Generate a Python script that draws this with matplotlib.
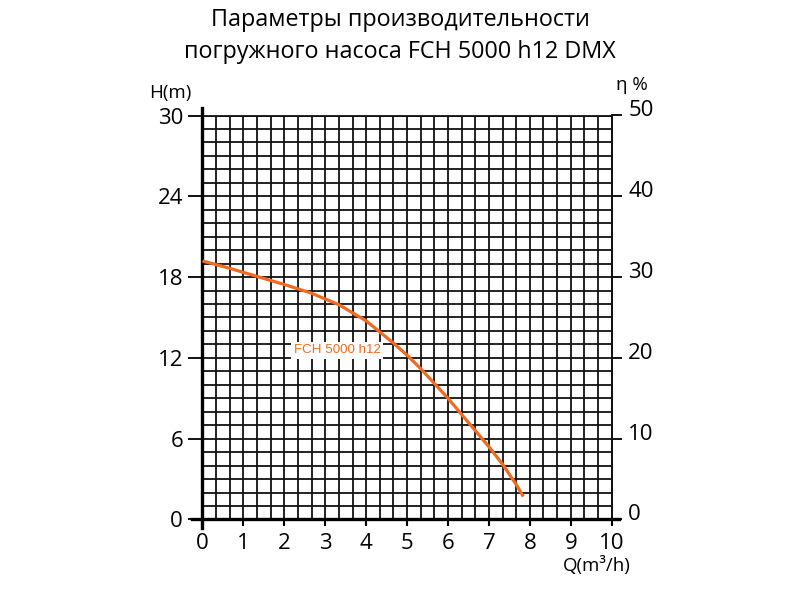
import numpy as np
import matplotlib
matplotlib.use("Agg")
import matplotlib.pyplot as plt
from matplotlib.lines import Line2D
from matplotlib.transforms import ScaledTranslation

plt.rcParams['font.family'] = ['Open Sans', 'DejaVu Sans']

title = "Параметры производительности\nпогружного насоса FCH 5000 h12 DMX"
q_vals = [0.0, 0.667, 1.333, 2.0, 2.667, 3.333, 4.0, 4.667, 5.0, 5.333,
          5.667, 6.0, 6.333, 6.667, 7.0, 7.333, 7.667, 7.84]
h_vals = [19.2, 18.65, 18.05, 17.45, 16.8, 15.95, 14.75, 13.1, 12.2, 11.2,
          10.1, 9.0, 7.8, 6.6, 5.4, 4.1, 2.6, 1.7]
curve_label = "FCH 5000 h12"
x_ticks = list(range(0, 11))
h_ticks = [0, 6, 12, 18, 24, 30]
eta_ticks = [0, 10, 20, 30, 40, 50]

orange = '#f26a21'

fig = plt.figure(figsize=(8, 6), dpi=100)
ax = fig.add_axes([0.2531, 0.1342, 0.7646 - 0.2531, 0.8075 - 0.1342])

ax.set_xlim(0, 10)
ax.set_ylim(0, 30)
ax.set_xticks(x_ticks)
ax.set_yticks(h_ticks)
ax.set_xticks(np.arange(0, 10.001, 1/3), minor=True)
ax.set_yticks(np.arange(0, 30.001, 1), minor=True)
ax.grid(which='both', color='#111111', linewidth=1.3)
ax.set_axisbelow(True)

ax.tick_params(axis='x', which='major', direction='out', length=5, width=1.5,
               labelsize=16, pad=5)
ax.tick_params(axis='y', which='major', direction='out', length=10, width=1.3,
               labelsize=16, pad=4)
ax.tick_params(which='minor', length=0)

for s in ['left', 'bottom']:
    ax.spines[s].set_visible(False)
for s in ['top', 'right']:
    ax.spines[s].set_linewidth(1.3)
    ax.spines[s].set_color('#111111')

ax.add_line(Line2D([0, 0], [-0.022, 1.019], transform=ax.transAxes,
                   color='black', linewidth=2.4, clip_on=False))
ax.add_line(Line2D([-0.026, 1.018], [0, 0], transform=ax.transAxes,
                   color='black', linewidth=2.4, clip_on=False))

ax.plot(q_vals, h_vals, color=orange, linewidth=2.3, solid_capstyle='butt',
        solid_joinstyle='round', zorder=3)
ax.text(3.29, 12.55, curve_label, color=orange, fontsize=9.6,
        family=['Liberation Sans', 'DejaVu Sans'], ha='center', va='center',
        bbox=dict(facecolor='white', edgecolor='none', pad=2.0), zorder=4)

ax2 = ax.twinx()
ax2.set_ylim(0, 50)
ax2.set_yticks(eta_ticks)
ax2.tick_params(axis='y', direction='out', length=7, width=1.3, labelsize=16, pad=5)
for s in ['left', 'bottom', 'top']:
    ax2.spines[s].set_visible(False)
ax2.spines['right'].set_linewidth(1.3)
ax2.spines['right'].set_color('#111111')
off = ScaledTranslation(0, 7/100, fig.dpi_scale_trans)
for lab in ax2.get_yticklabels():
    lab.set_transform(lab.get_transform() + off)

fig.text(0.5, 1 - 36/600, title, ha='center', va='center', fontsize=16.8,
         linespacing=1.45)
fig.text(170/800, 1 - 93/600, "H(m)", ha='center', va='center', fontsize=13.5)
fig.text(632/800, 1 - 85/600, "η %", ha='center', va='center', fontsize=13.5)
fig.text(597/800, 1 - 566/600, "Q(m³/h)", ha='center', va='center', fontsize=13.5)

fig.savefig("out.png", dpi=100, facecolor='white')
